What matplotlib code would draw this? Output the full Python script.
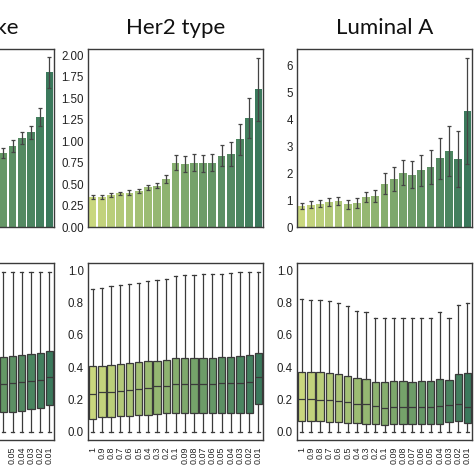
import numpy as np
import matplotlib
matplotlib.use("Agg")
import matplotlib.pyplot as plt
from matplotlib.colors import LinearSegmentedColormap

# ---------------- data ----------------
categories = ["1", "0.9", "0.8", "0.7", "0.6", "0.5", "0.4", "0.3", "0.2", "0.1",
              "0.09", "0.08", "0.07", "0.06", "0.05", "0.04", "0.03", "0.02", "0.01"]
titles = ["Basal-like", "Her2 type", "Luminal A"]

# bar chart (top row): mean and error half-width
basal_mean = [0.40, 0.42, 0.44, 0.46, 0.48, 0.50, 0.53, 0.56, 0.60, 0.66,
              0.70, 0.74, 0.80, 0.86, 0.94, 1.03, 1.10, 1.28, 1.80]
basal_err = [0.03, 0.03, 0.03, 0.03, 0.03, 0.035, 0.035, 0.04, 0.04, 0.045,
             0.05, 0.05, 0.055, 0.06, 0.07, 0.07, 0.08, 0.10, 0.18]
her2_mean = [0.35, 0.35, 0.37, 0.39, 0.40, 0.42, 0.46, 0.48, 0.56, 0.75,
             0.73, 0.75, 0.74, 0.75, 0.83, 0.85, 1.02, 1.27, 1.60]
her2_err = [0.02, 0.02, 0.02, 0.02, 0.025, 0.025, 0.03, 0.03, 0.05, 0.09,
            0.09, 0.10, 0.10, 0.10, 0.12, 0.14, 0.18, 0.23, 0.37]
luma_mean = [0.78, 0.83, 0.87, 0.93, 0.95, 0.84, 0.89, 1.11, 1.14, 1.61,
             1.79, 2.02, 1.93, 2.10, 2.22, 2.54, 2.82, 2.52, 4.31]
luma_err = [0.12, 0.13, 0.14, 0.15, 0.15, 0.16, 0.17, 0.20, 0.22, 0.40,
            0.44, 0.48, 0.50, 0.57, 0.63, 0.76, 0.92, 1.04, 1.96]

# box plots (bottom row): whisker low, Q1, median, Q3, whisker high
basal_q1 = [0.08, 0.085, 0.09, 0.095, 0.10, 0.10, 0.105, 0.11, 0.11, 0.115,
            0.115, 0.12, 0.12, 0.122, 0.125, 0.13, 0.14, 0.148, 0.167]
basal_med = [0.24, 0.245, 0.25, 0.255, 0.26, 0.265, 0.27, 0.275, 0.28, 0.285,
             0.288, 0.29, 0.293, 0.297, 0.30, 0.308, 0.315, 0.32, 0.34]
basal_q3 = [0.41, 0.415, 0.42, 0.425, 0.43, 0.435, 0.44, 0.445, 0.45, 0.452,
            0.455, 0.458, 0.46, 0.465, 0.47, 0.475, 0.48, 0.488, 0.50]
basal_whi = [0.90, 0.91, 0.92, 0.93, 0.94, 0.95, 0.955, 0.96, 0.965, 0.97,
             0.975, 0.98, 0.985, 0.99, 0.99, 0.99, 0.99, 0.99, 0.99]
basal_wlo = [0.0] * 19

her2_q1 = [0.082, 0.09, 0.092, 0.097, 0.10, 0.103, 0.107, 0.111, 0.115, 0.119,
           0.12, 0.12, 0.12, 0.12, 0.12, 0.12, 0.12, 0.12, 0.17]
her2_med = [0.236, 0.244, 0.248, 0.255, 0.26, 0.267, 0.273, 0.281, 0.287, 0.296,
            0.297, 0.297, 0.298, 0.299, 0.30, 0.302, 0.305, 0.31, 0.34]
her2_q3 = [0.405, 0.41, 0.415, 0.42, 0.425, 0.43, 0.437, 0.441, 0.448, 0.458,
           0.46, 0.46, 0.46, 0.46, 0.462, 0.465, 0.47, 0.475, 0.49]
her2_whi = [0.883, 0.89, 0.90, 0.907, 0.918, 0.924, 0.932, 0.938, 0.949, 0.965,
            0.97, 0.97, 0.975, 0.98, 0.98, 0.985, 0.99, 0.99, 0.99]
her2_wlo = [0.0] * 19

luma_q1 = [0.066, 0.066, 0.066, 0.064, 0.062, 0.058, 0.054, 0.052, 0.05, 0.045,
           0.047, 0.047, 0.047, 0.047, 0.047, 0.052, 0.06, 0.066, 0.053]
luma_med = [0.203, 0.203, 0.20, 0.199, 0.193, 0.185, 0.175, 0.17, 0.158, 0.15,
            0.152, 0.154, 0.152, 0.154, 0.154, 0.158, 0.166, 0.175, 0.152]
luma_q3 = [0.37, 0.37, 0.368, 0.363, 0.357, 0.347, 0.335, 0.326, 0.31, 0.308,
           0.312, 0.314, 0.31, 0.314, 0.314, 0.329, 0.322, 0.357, 0.363]
luma_whi = [0.82, 0.815, 0.815, 0.807, 0.80, 0.778, 0.747, 0.739, 0.706, 0.706,
            0.706, 0.706, 0.706, 0.706, 0.706, 0.739, 0.706, 0.784, 0.80]
luma_wlo = [0.0] * 19

# ---------------- style ----------------
plt.rcParams["font.family"] = ["Liberation Sans", "DejaVu Sans"]
cmap = LinearSegmentedColormap.from_list("g", ["#c9d77e", "#86ae6e", "#3b795c"])
colors = [cmap(i / (len(categories) - 1)) for i in range(len(categories))]
spine_c = "#3a3a3a"
err_c = "#444444"
tick_fs = 8.3
xtick_fs = 6.4

W = 474.0
fig = plt.figure(figsize=(4.74, 4.74), dpi=100)

# the figure is a crop of a wider panel grid: the first column lies mostly off-canvas
col_left = [-121, 88, 297]
col_w = 175
top_row = (1 - 227 / W, (227 - 49) / W)
bot_row = (1 - 440 / W, (440 - 263) / W)

bar_means = [basal_mean, her2_mean, luma_mean]
bar_errs = [basal_err, her2_err, luma_err]
bar_ylims = [(0, 2.07), (0, 2.07), (0, 6.6)]
bar_ticks = [np.arange(0, 2.01, 0.25), np.arange(0, 2.01, 0.25), np.arange(0, 7, 1)]
bar_fmt = ["{:.2f}", "{:.2f}", "{:.0f}"]
title_x = [0.53, 0.5, 0.5]

boxes = [
    (basal_wlo, basal_q1, basal_med, basal_q3, basal_whi),
    (her2_wlo, her2_q1, her2_med, her2_q3, her2_whi),
    (luma_wlo, luma_q1, luma_med, luma_q3, luma_whi),
]

x = np.arange(len(categories))
n_hidden_first = 14  # categories of the cropped first column that fall off-canvas

def style_axis(ax):
    for s in ax.spines.values():
        s.set_color(spine_c)
        s.set_linewidth(1.0)
    ax.tick_params(length=0, labelsize=tick_fs, colors="#222222", pad=3)

for k in range(3):
    # top: bars
    ax = fig.add_axes([col_left[k] / W, top_row[0], col_w / W, top_row[1]])
    ax.bar(x, bar_means[k], width=0.84, color=colors, edgecolor="none")
    ax.errorbar(x, bar_means[k], yerr=bar_errs[k], fmt="none", ecolor=err_c,
                elinewidth=0.9, capsize=1.6, capthick=0.9)
    ax.set_xlim(-0.5, len(categories) - 0.5)
    ax.set_ylim(*bar_ylims[k])
    ax.set_xticks([])
    ax.set_yticks(bar_ticks[k])
    if k == 0:
        ax.set_yticklabels([])
    else:
        ax.set_yticklabels([bar_fmt[k].format(v) for v in bar_ticks[k]])
    style_axis(ax)
    ax.set_title(titles[k], fontsize=16, family=["Lato", "DejaVu Sans"],
                 pad=10.5, color="#111111", x=title_x[k])

    # bottom: boxes
    axb = fig.add_axes([col_left[k] / W, bot_row[0], col_w / W, bot_row[1]])
    wlo, q1, med, q3, whi = boxes[k]
    stats = [dict(whislo=wlo[i], q1=q1[i], med=med[i], q3=q3[i], whishi=whi[i],
                  fliers=[]) for i in range(len(categories))]
    bp = axb.bxp(stats, positions=x, widths=0.8, patch_artist=True,
                 showfliers=False, capwidths=0.35,
                 boxprops=dict(edgecolor=spine_c, linewidth=0.9),
                 medianprops=dict(color=spine_c, linewidth=0.9),
                 whiskerprops=dict(color=spine_c, linewidth=0.9),
                 capprops=dict(color=spine_c, linewidth=0.9))
    for patch, c in zip(bp["boxes"], colors):
        patch.set_facecolor(c)
    axb.set_xlim(-0.5, len(categories) - 0.5)
    axb.set_ylim(-0.05, 1.045)
    yt = np.arange(0, 1.01, 0.2)
    axb.set_yticks(yt)
    axb.set_xticks(x)
    if k == 0:
        axb.set_yticklabels([])
        axb.set_xticklabels([c if i >= n_hidden_first else ""
                             for i, c in enumerate(categories)], rotation=90)
    else:
        axb.set_yticklabels(["{:.1f}".format(v) for v in yt])
        axb.set_xticklabels(categories, rotation=90)
    style_axis(axb)
    axb.tick_params(axis="x", pad=5, labelsize=xtick_fs)

fig.savefig("out.png", dpi=100, facecolor="white")
